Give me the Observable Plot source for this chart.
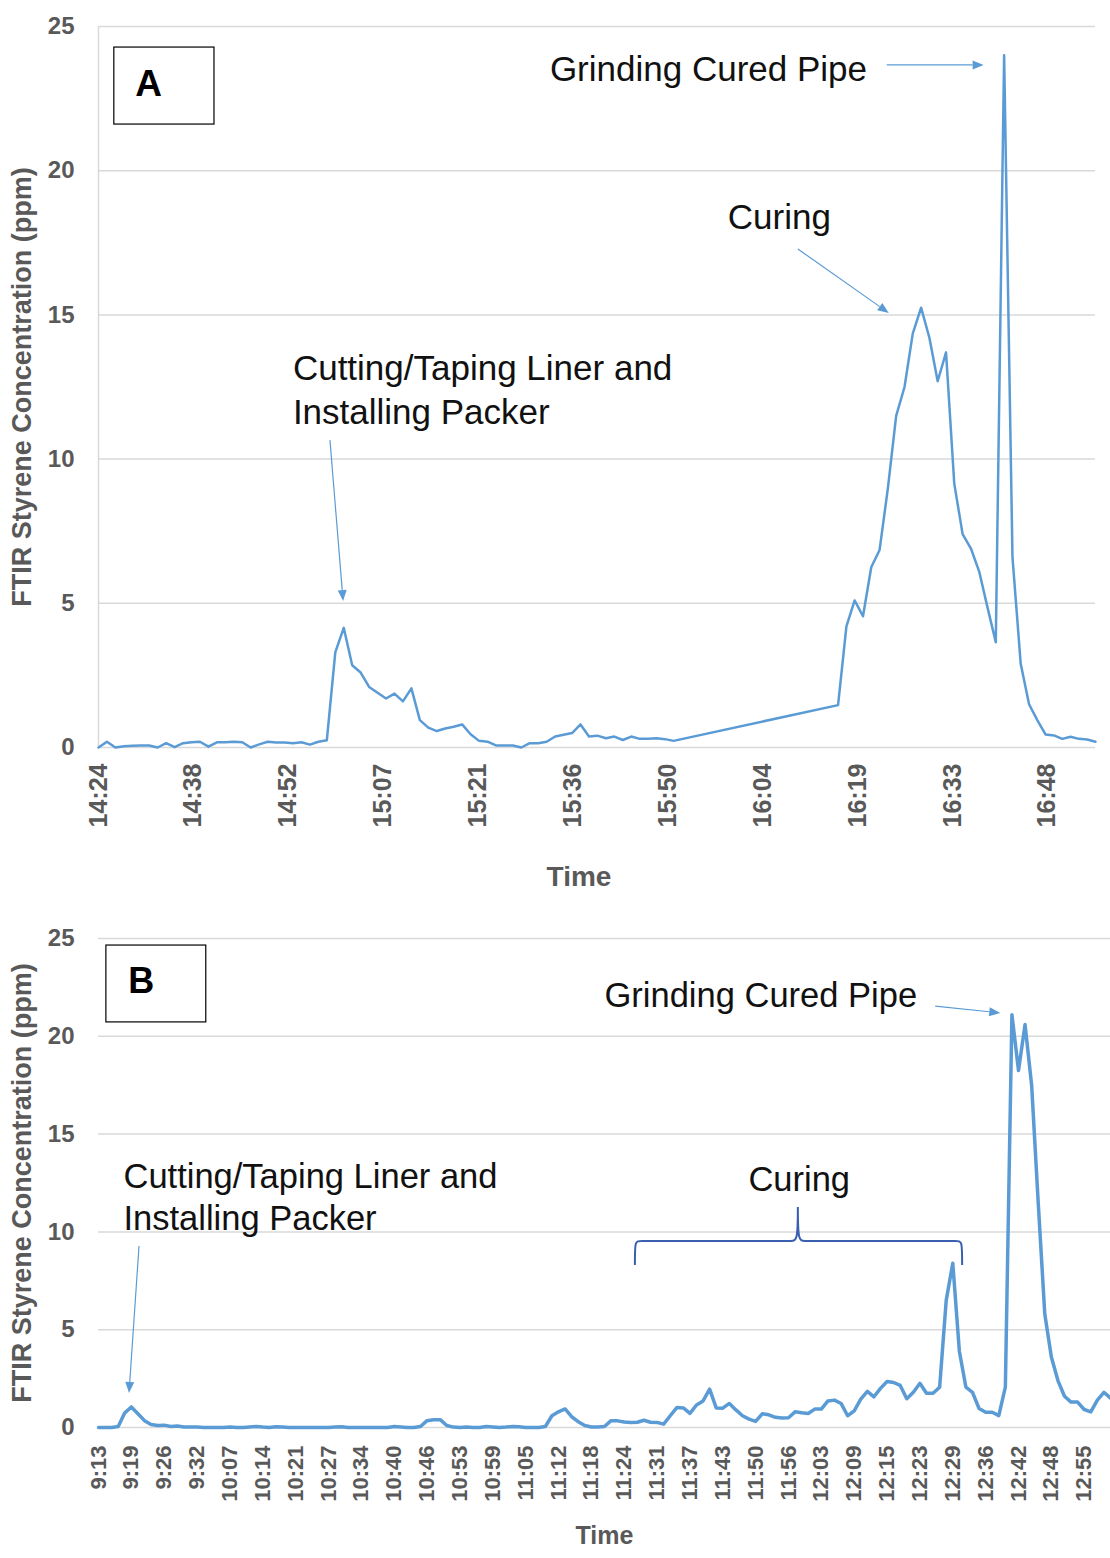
<!DOCTYPE html>
<html>
<head>
<meta charset="utf-8">
<script src="https://cdn.jsdelivr.net/npm/d3@7"></script>
<script src="https://cdn.jsdelivr.net/npm/@observablehq/plot@0.6"></script>
<style>
  html, body { margin: 0; padding: 0; background: #fff; }
  #chart { width: 1110px; }
  #chart svg { display: block; }
</style>
</head>
<body>
<div id="chart"></div>
<script>
// ---------------- Panel A data (scatter with straight lines, time axis) ----------------
const timesA = [
  "14:24:00","14:25:17","14:26:34","14:27:51","14:29:08","14:30:25","14:31:42","14:32:59","14:34:16","14:35:33",
  "14:36:50","14:38:07","14:39:24","14:40:41","14:41:58","14:43:15","14:44:32","14:45:49","14:47:06","14:48:23",
  "14:49:40","14:50:57","14:52:14","14:53:31","14:54:48","14:56:05","14:57:22","14:58:39","14:59:56","15:01:13",
  "15:02:30","15:03:47","15:05:04","15:06:21","15:07:38","15:08:55","15:10:12","15:11:29","15:12:46","15:14:03",
  "15:15:20","15:16:37","15:17:54","15:19:11","15:20:28","15:21:45","15:23:02","15:24:19","15:25:36","15:26:53",
  "15:28:10","15:29:27","15:30:44","15:32:01","15:33:18","15:34:35","15:35:52","15:37:09","15:38:26","15:39:43",
  "15:41:00","15:42:17","15:43:34","15:44:51","15:46:08","15:47:25","15:48:42","15:49:59","15:51:16",
  "16:16:14","16:17:30","16:18:45","16:20:01","16:21:16","16:22:32","16:23:48","16:25:03","16:26:19","16:27:34",
  "16:28:50","16:30:06","16:31:21","16:32:37","16:33:52","16:35:08","16:36:24","16:37:39","16:38:55","16:40:10",
  "16:41:26","16:42:42","16:43:57","16:45:13","16:46:28","16:47:44","16:49:00","16:50:15","16:51:31","16:52:46",
  "16:54:02","16:55:18"
];
const valuesA = [
  0, 0.2, 0, 0.04, 0.06, 0.07, 0.07, 0, 0.15, 0.01,
  0.15, 0.18, 0.2, 0.03, 0.18, 0.18, 0.2, 0.18, 0, 0.11,
  0.2, 0.17, 0.17, 0.15, 0.18, 0.1, 0.2, 0.25, 3.3, 4.15,
  2.85, 2.6, 2.1, 1.9, 1.7, 1.87, 1.6, 2.05, 0.95, 0.69,
  0.57, 0.66, 0.72, 0.8, 0.46, 0.23, 0.2, 0.07, 0.07, 0.07,
  0, 0.15, 0.15, 0.2, 0.38, 0.44, 0.5, 0.8, 0.38, 0.41,
  0.32, 0.38, 0.26, 0.38, 0.3, 0.3, 0.32, 0.29, 0.23,
  1.47, 4.2, 5.1, 4.55, 6.25, 6.85, 9.0, 11.5, 12.5, 14.35,
  15.25, 14.2, 12.7, 13.7, 9.15, 7.4, 6.9, 6.1, 4.85, 3.65,
  24.0, 6.6, 2.9, 1.5, 0.95, 0.45, 0.42, 0.3, 0.37, 0.3,
  0.28, 0.2
];
const tickLabelsA = ["14:24","14:38","14:52","15:07","15:21","15:36","15:50","16:04","16:19","16:33","16:48"];
const majorUnitMinutesA = 14.4; // 0.01 day

// ---------------- Panel B data (category axis, one category per sample) ----------------
const valuesB = [
  0, 0, 0, 0.05, 0.75, 1.05, 0.7, 0.35, 0.15, 0.1,
  0.12, 0.05, 0.08, 0.03, 0.02, 0.02, 0, 0, 0, 0,
  0.02, 0, 0, 0.03, 0.05, 0.02, 0, 0.04, 0.03, 0,
  0, 0, 0, 0, 0, 0, 0.02, 0.04, 0, 0,
  0, 0, 0, 0, 0, 0.05, 0.03, 0, 0, 0.05,
  0.35, 0.4, 0.4, 0.1, 0.02, 0, 0.03, 0, 0, 0.05,
  0.03, 0, 0.02, 0.05, 0.04, 0, 0, 0, 0.05, 0.6,
  0.8, 0.95, 0.55, 0.3, 0.1, 0.03, 0.03, 0.05, 0.35, 0.34,
  0.28, 0.26, 0.27, 0.37, 0.27, 0.26, 0.17, 0.6, 1.02, 1.0,
  0.72, 1.15, 1.36, 1.96, 1.0, 0.99, 1.23, 0.9, 0.6, 0.43,
  0.31, 0.7, 0.65, 0.52, 0.48, 0.5, 0.8, 0.75, 0.72, 0.94,
  0.94, 1.36, 1.4, 1.23, 0.6, 0.85, 1.45, 1.85, 1.57, 2.0,
  2.35, 2.3, 2.15, 1.47, 1.8, 2.26, 1.75, 1.75, 2.06, 6.5,
  8.4, 3.9, 2.06, 1.8, 0.97, 0.78, 0.78, 0.61, 2.06, 21.1,
  18.25, 20.6, 17.5, 11.5, 5.8, 3.6, 2.4, 1.6, 1.3, 1.3,
  0.92, 0.8, 1.4, 1.8, 1.5
];
const tickLabelsB = ["9:13","9:19","9:26","9:32","10:07","10:14","10:21","10:27","10:34","10:40",
  "10:46","10:53","10:59","11:05","11:12","11:18","11:24","11:31","11:37","11:43",
  "11:50","11:56","12:03","12:09","12:15","12:23","12:29","12:36","12:42","12:48","12:55"];
const labelEveryB = 5;

const yTicks = [0, 5, 10, 15, 20, 25];
const yTitle = "FTIR Styrene Concentration (ppm)";
const xTitle = "Time";

// ---------------- annotations (data coordinates) ----------------
const notesA = [
  {x: 932.5, y: 23.6, text: "Grinding Cured Pipe"},
  {x: 959.5, y: 18.45, text: "Curing"},
  {x: 893.5, y: 12.47, text: "Cutting/Taping Liner and\nInstalling Packer"}
];
const arrowsA = [
  {x1: 983.7, y1: 23.65, x2: 998.4, y2: 23.65},
  {x1: 970.2, y1: 17.27, x2: 984.0, y2: 15.05},
  {x1: 899.2, y1: 10.64, x2: 901.2, y2: 5.06}
];
const boxA = [{x1: 866.4, x2: 881.6, y1: 21.6, y2: 24.27, lx: 871.6, ly: 23.0, label: "A"}];

const notesB = [
  {x: 77.0, y: 22.19, text: "Grinding Cured Pipe"},
  {x: 98.9, y: 12.78, text: "Curing"},
  {x: 3.8, y: 11.86, text: "Cutting/Taping Liner and\nInstalling Packer"}
];
const arrowsB = [
  {x1: 127.4, y1: 21.52, x2: 137.3, y2: 21.17},
  {x1: 6.24, y1: 9.25, x2: 4.72, y2: 1.74}
];
const boxB = [{x1: 1.2, x2: 16.4, y1: 20.71, y2: 24.64, lx: 6.5, ly: 22.8, label: "B"}];
const braceB = {x1: 81.7, x2: 131.5, xm: 106.5, y: 9.51, yEnd: 8.28, yTip: 11.25};

// ---------------- helpers ----------------
const toMin = s => { const [h, m, sec] = s.split(":").map(Number); return h * 60 + m + (sec || 0) / 60; };
const FONT = "'Liberation Sans', Arial, Helvetica, sans-serif";
const LINE = "#5b9bd5";
const GRID = "#d9d9d9";
const AXIS_TEXT = "#595959";

function arrowsMark(arrows, {stroke = LINE, width = 1.2, head = 11, headW = 4.5} = {}) {
  return (index, scales) => {
    const g = d3.create("svg:g");
    for (const a of arrows) {
      const x1 = scales.x(a.x1), y1 = scales.y(a.y1), x2 = scales.x(a.x2), y2 = scales.y(a.y2);
      const ang = Math.atan2(y2 - y1, x2 - x1);
      const bx = x2 - head * Math.cos(ang), by = y2 - head * Math.sin(ang);
      g.append("line").attr("x1", x1).attr("y1", y1).attr("x2", bx).attr("y2", by)
        .attr("stroke", stroke).attr("stroke-width", width);
      const px = -Math.sin(ang) * headW, py = Math.cos(ang) * headW;
      g.append("path").attr("d", `M${x2},${y2}L${bx + px},${by + py}L${bx - px},${by - py}Z`).attr("fill", stroke);
    }
    return g.node();
  };
}

function braceMark(b, {stroke = "#3a5fb0", width = 2} = {}) {
  return (index, scales) => {
    const x1 = scales.x(b.x1), x2 = scales.x(b.x2), xm = scales.x(b.xm);
    const y = scales.y(b.y), ye = scales.y(b.yEnd), yt = scales.y(b.yTip);
    const r = 7;
    const d = `M${x1},${ye} C${x1},${y} ${x1},${y} ${x1 + r},${y} H${xm - r} C${xm - 1},${y} ${xm},${y - 2} ${xm},${yt}` +
              ` M${xm},${yt} C${xm},${y - 2} ${xm + 1},${y} ${xm + r},${y} H${x2 - r} C${x2},${y} ${x2},${y} ${x2},${ye}`;
    return d3.create("svg:path").attr("d", d).attr("fill", "none").attr("stroke", stroke)
      .attr("stroke-width", width).node();
  };
}

// ---------------- Panel A ----------------
const dataA = timesA.map((t, i) => ({t: toMin(t), v: valuesA[i]}));
const startA = toMin(tickLabelsA[0]);
const tickPosA = tickLabelsA.map((_, i) => startA + majorUnitMinutesA * i);
const tickMapA = new Map(tickPosA.map((p, i) => [p, tickLabelsA[i]]));

const chartA = Plot.plot({
  width: 1110,
  height: 905,
  marginTop: 26,
  marginBottom: 158,
  marginLeft: 98,
  marginRight: 15,
  style: {fontFamily: FONT, fontWeight: "bold", color: AXIS_TEXT, background: "white", overflow: "visible"},
  x: {domain: [startA, dataA[dataA.length - 1].t], axis: null},
  y: {domain: [0, 25], axis: null},
  marks: [
    Plot.gridY(yTicks.slice(1), {stroke: GRID, strokeOpacity: 1, strokeWidth: 1.5}),
    Plot.ruleY([0], {stroke: GRID, strokeWidth: 1.5}),
    Plot.ruleX([startA], {y1: 0, y2: 25, stroke: GRID, strokeWidth: 1.5}),
    Plot.axisY(yTicks, {tickSize: 0, tickPadding: 24, fontSize: 24, fontWeight: "bold", fill: AXIS_TEXT, label: null}),
    Plot.axisX(tickPosA, {tickSize: 0, tickPadding: 16, tickRotate: -90, fontSize: 25, fontWeight: "bold",
      fill: AXIS_TEXT, label: null, tickFormat: d => tickMapA.get(d)}),
    Plot.text([yTitle], {frameAnchor: "left", dx: -76, rotate: -90, textAnchor: "middle", lineAnchor: "middle",
      fontSize: 27, fontWeight: "bold", fill: AXIS_TEXT}),
    Plot.text([xTitle], {frameAnchor: "bottom", dx: -18, dy: 130, textAnchor: "middle", lineAnchor: "middle",
      fontSize: 28, fontWeight: "bold", fill: AXIS_TEXT}),
    Plot.line(dataA, {x: "t", y: "v", stroke: LINE, strokeWidth: 2.5, strokeLinejoin: "round"}),
    Plot.rect(boxA, {x1: "x1", x2: "x2", y1: "y1", y2: "y2", fill: "white", stroke: "black", strokeWidth: 1.2}),
    Plot.text(boxA, {x: "lx", y: "ly", text: "label", fontSize: 37, fontWeight: "bold", fill: "black"}),
    Plot.text(notesA, {x: "x", y: "y", text: "text", textAnchor: "start", fontSize: 35, fontWeight: "normal",
      fill: "#111", lineHeight: 1.25}),
    arrowsMark(arrowsA)
  ]
});

// ---------------- Panel B ----------------
const dataB = valuesB.map((v, i) => ({i, v}));
const tickPosB = tickLabelsB.map((_, k) => k * labelEveryB);
const tickMapB = new Map(tickPosB.map((p, k) => [p, tickLabelsB[k]]));

const chartB = Plot.plot({
  width: 1110,
  height: 653,
  marginTop: 33,
  marginBottom: 131,
  marginLeft: 98,
  marginRight: 0,
  style: {fontFamily: FONT, fontWeight: "bold", color: AXIS_TEXT, background: "white", overflow: "visible"},
  x: {domain: [0, valuesB.length - 1], axis: null},
  y: {domain: [0, 25], axis: null},
  marks: [
    Plot.gridY(yTicks.slice(1), {stroke: GRID, strokeOpacity: 1, strokeWidth: 1.5}),
    Plot.ruleY([0], {stroke: GRID, strokeWidth: 1.5}),
    Plot.axisY(yTicks, {tickSize: 0, tickPadding: 24, fontSize: 24, fontWeight: "bold", fill: AXIS_TEXT, label: null}),
    Plot.axisX(tickPosB, {tickSize: 0, tickPadding: 18, tickRotate: -90, fontSize: 22, fontWeight: "bold",
      fill: AXIS_TEXT, label: null, tickFormat: d => tickMapB.get(d)}),
    Plot.text([yTitle], {frameAnchor: "left", dx: -76, rotate: -90, textAnchor: "middle", lineAnchor: "middle",
      fontSize: 27, fontWeight: "bold", fill: AXIS_TEXT}),
    Plot.text([xTitle], {frameAnchor: "bottom", dx: 0, dy: 108, textAnchor: "middle", lineAnchor: "middle",
      fontSize: 25, fontWeight: "bold", fill: AXIS_TEXT}),
    Plot.line(dataB, {x: "i", y: "v", stroke: LINE, strokeWidth: 3.5, strokeLinejoin: "round"}),
    Plot.rect(boxB, {x1: "x1", x2: "x2", y1: "y1", y2: "y2", fill: "white", stroke: "black", strokeWidth: 1.2}),
    Plot.text(boxB, {x: "lx", y: "ly", text: "label", fontSize: 36, fontWeight: "bold", fill: "black"}),
    Plot.text(notesB, {x: "x", y: "y", text: "text", textAnchor: "start", fontSize: 34.5, fontWeight: "normal",
      fill: "#111", lineHeight: 1.22}),
    arrowsMark(arrowsB),
    braceMark(braceB)
  ]
});

document.getElementById("chart").append(chartA, chartB);
</script>
</body>
</html>
